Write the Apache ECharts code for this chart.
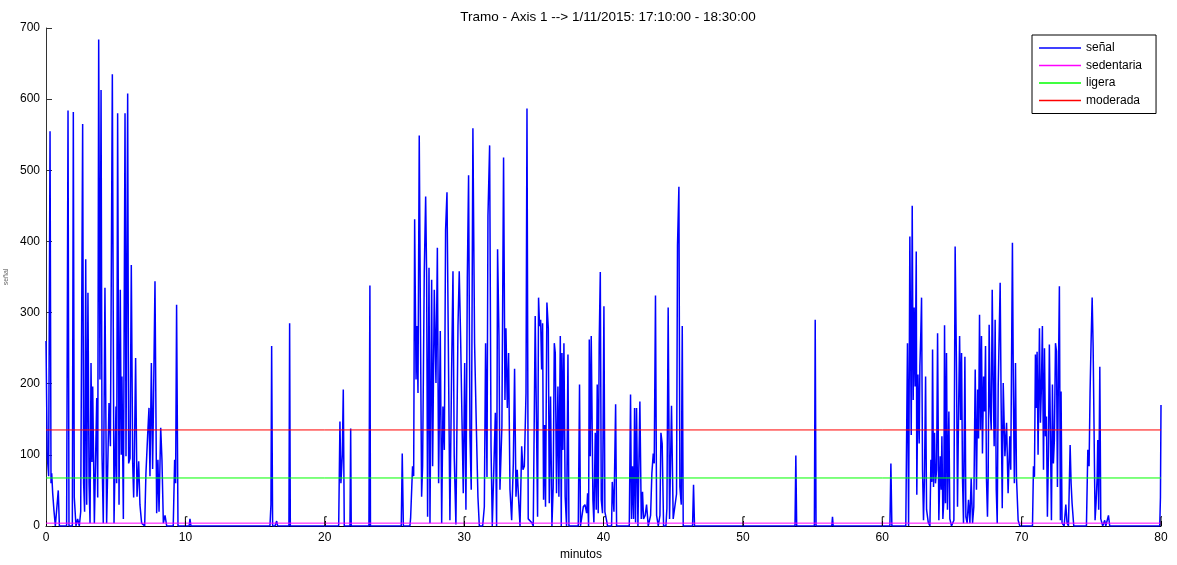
<!DOCTYPE html>
<html>
<head>
<meta charset="utf-8">
<title>Tramo - Axis 1</title>
<script src="https://cdn.jsdelivr.net/npm/echarts@6/dist/echarts.min.js"></script>
<style>
  html, body { margin: 0; padding: 0; background: #fff; }
  #chart { width: 1177px; height: 565px; }
</style>
</head>
<body>
<div id="chart"></div>
<script>
// señal as [minuto, valor] pairs, one array per burst
const burst0to10 = [
  [0, 260], [0.09, 98], [0.19, 70], [0.29, 555], [0.36, 60], [0.41, 74], [0.48, 46], [0.57, 22], [0.67, 0],
  [0.88, 50], [0.96, 0], [1.48, 0], [1.58, 584], [1.65, 0], [1.89, 0], [1.96, 582], [2.03, 40], [2.15, 0],
  [2.27, 10], [2.39, 0], [2.49, 20], [2.63, 565], [2.70, 60], [2.77, 20], [2.85, 375], [2.92, 30], [3.01, 328],
  [3.09, 60], [3.16, 4], [3.23, 229], [3.30, 90], [3.35, 196], [3.47, 4], [3.64, 180], [3.71, 40], [3.78, 684],
  [3.87, 206], [3.95, 613], [4.02, 100], [4.11, 4], [4.23, 335], [4.35, 4], [4.52, 173], [4.62, 112], [4.76, 635],
  [4.88, 4], [5.02, 168], [5.07, 60], [5.14, 580], [5.24, 30], [5.33, 332], [5.40, 100], [5.45, 210], [5.55, 10],
  [5.67, 580], [5.74, 98], [5.86, 608], [5.93, 88], [6.03, 95], [6.12, 367], [6.22, 88], [6.29, 40], [6.34, 95],
  [6.43, 236], [6.53, 41], [6.65, 91], [6.74, 30], [6.86, 4], [7.08, 0], [7.17, 74], [7.29, 126], [7.39, 166],
  [7.46, 70], [7.56, 229], [7.65, 80], [7.72, 184], [7.82, 344], [7.94, 18], [8.03, 93], [8.11, 20], [8.23, 138],
  [8.32, 93], [8.42, 4], [8.54, 15], [8.66, 0], [9.13, 0], [9.23, 93], [9.30, 60], [9.37, 311], [9.47, 0],
  [10.27, 0], [10.33, 10], [10.40, 0]
];
const burst16to24 = [
  [16.07, 0], [16.14, 30], [16.19, 253], [16.26, 0], [16.43, 0], [16.55, 7], [16.62, 0],
  [17.43, 0], [17.48, 285], [17.53, 0], [21.0, 0], [21.09, 147], [21.16, 60], [21.26, 100], [21.33, 192],
  [21.40, 0], [21.81, 0], [21.86, 137], [21.90, 0], [23.17, 0], [23.24, 338], [23.28, 0]
];
const burst25to35 = [
  [25.49, 0], [25.56, 102], [25.64, 0], [26.11, 0], [26.16, 11], [26.30, 84], [26.38, 70], [26.45, 431],
  [26.55, 206], [26.62, 281], [26.69, 187], [26.78, 549], [26.88, 243], [26.95, 41], [27.02, 84], [27.14, 356],
  [27.24, 463], [27.31, 351], [27.38, 13], [27.48, 363], [27.55, 4], [27.67, 346], [27.74, 84], [27.86, 332],
  [27.98, 201], [28.08, 391], [28.17, 60], [28.29, 274], [28.39, 4], [28.48, 168], [28.58, 107], [28.67, 416],
  [28.77, 469], [28.86, 271], [28.98, 8], [29.10, 215], [29.20, 358], [29.29, 98], [29.41, 2], [29.56, 281],
  [29.65, 358], [29.75, 262], [29.85, 145], [29.94, 46], [30.04, 229], [30.13, 23], [30.23, 349], [30.32, 493],
  [30.42, 126], [30.51, 51], [30.63, 559], [30.75, 257], [30.87, 145], [30.99, 41], [31.09, 0], [31.33, 0],
  [31.45, 27], [31.54, 257], [31.64, 69], [31.71, 436], [31.83, 535], [31.93, 112], [32.02, 0], [32.14, 0],
  [32.24, 159], [32.33, 0], [32.40, 389], [32.50, 267], [32.57, 51], [32.71, 140], [32.83, 518], [32.93, 177],
  [33.00, 278], [33.10, 166], [33.19, 243], [33.29, 51], [33.41, 8], [33.53, 88], [33.62, 221], [33.72, 41],
  [33.81, 79], [33.91, 37], [34.01, 0], [34.13, 112], [34.22, 79], [34.32, 84], [34.44, 187], [34.51, 587],
  [34.60, 10], [34.72, 8], [34.84, 5], [34.96, 0]
];
const burst35to47 = [
  [35.10, 295], [35.20, 131], [35.27, 13], [35.34, 321], [35.41, 281], [35.49, 290], [35.56, 220], [35.63, 285],
  [35.70, 37], [35.77, 142], [35.84, 27], [35.94, 314], [36.04, 278], [36.11, 32], [36.20, 182], [36.30, 0],
  [36.39, 55], [36.47, 257], [36.54, 243], [36.63, 46], [36.73, 196], [36.80, 41], [36.90, 267], [36.97, 0],
  [37.02, 243], [37.09, 107], [37.16, 257], [37.25, 41], [37.35, 0], [37.45, 241], [37.52, 0], [38.19, 0],
  [38.28, 199], [38.35, 0], [38.55, 27], [38.67, 30], [38.79, 18], [38.86, 46], [38.93, 0], [38.98, 262],
  [39.05, 98], [39.12, 267], [39.24, 37], [39.31, 5], [39.41, 131], [39.48, 23], [39.55, 199], [39.62, 18],
  [39.69, 255], [39.77, 357], [39.84, 37], [39.93, 18], [40.03, 309], [40.10, 20], [40.20, 10], [40.29, 0],
  [40.58, 0], [40.63, 62], [40.75, 20], [40.87, 171], [40.94, 0], [41.85, 0], [41.94, 185], [42.01, 10],
  [42.08, 84], [42.16, 10], [42.23, 166], [42.30, 5], [42.37, 166], [42.47, 0], [42.61, 175], [42.71, 10],
  [42.80, 48], [42.87, 10], [42.99, 15], [43.09, 30], [43.21, 0], [43.38, 15], [43.47, 74], [43.57, 102],
  [43.64, 88], [43.73, 324], [43.81, 15], [43.93, 0], [44.05, 15], [44.12, 131], [44.21, 116], [44.31, 0],
  [44.48, 0], [44.55, 25], [44.64, 307], [44.74, 10], [44.88, 169], [45.00, 10], [45.12, 8], [45.24, 45],
  [45.31, 395], [45.41, 477], [45.48, 55], [45.58, 30], [45.65, 281], [45.72, 0], [46.39, 0], [46.46, 58],
  [46.53, 0]
];
const burst53to57 = [
  [53.74, 0], [53.80, 99], [53.86, 0], [55.13, 0], [55.19, 290], [55.25, 0], [56.38, 0], [56.43, 13], [56.48, 0]
];
const burst60to70 = [
  [60.55, 0], [60.62, 88], [60.69, 0], [61.69, 0], [61.81, 257], [61.89, 0], [61.98, 407], [62.08, 128],
  [62.15, 450], [62.22, 177], [62.29, 307], [62.36, 196], [62.44, 386], [62.48, 44], [62.56, 213], [62.65, 116],
  [62.70, 224], [62.77, 274], [62.82, 321], [62.89, 79], [62.96, 8], [63.03, 69], [63.11, 210], [63.18, 23],
  [63.30, 5], [63.42, 0], [63.49, 93], [63.56, 62], [63.61, 248], [63.68, 55], [63.75, 131], [63.82, 60],
  [63.90, 79], [63.97, 271], [64.06, 8], [64.16, 98], [64.23, 51], [64.28, 126], [64.35, 10], [64.42, 37],
  [64.47, 282], [64.54, 32], [64.61, 243], [64.68, 23], [64.78, 161], [64.85, 10], [64.97, 0], [65.14, 8],
  [65.23, 393], [65.33, 215], [65.40, 27], [65.47, 149], [65.55, 267], [65.62, 149], [65.69, 243], [65.76, 65],
  [65.83, 4], [65.93, 238], [66.00, 13], [66.09, 4], [66.19, 37], [66.29, 4], [66.38, 67], [66.48, 4],
  [66.57, 27], [66.67, 220], [66.76, 51], [66.84, 192], [66.91, 123], [66.98, 297], [67.05, 135], [67.12, 267],
  [67.19, 102], [67.27, 210], [67.34, 161], [67.41, 253], [67.48, 65], [67.55, 13], [67.60, 69], [67.67, 283],
  [67.74, 168], [67.82, 135], [67.89, 332], [67.96, 206], [68.03, 112], [68.10, 290], [68.18, 51], [68.25, 4],
  [68.32, 196], [68.39, 269], [68.46, 342], [68.53, 173], [68.61, 25], [68.68, 201], [68.80, 98], [68.92, 145],
  [69.03, 46], [69.15, 126], [69.22, 79], [69.34, 398], [69.41, 182], [69.48, 60], [69.56, 229], [69.63, 69],
  [69.75, 8], [69.87, 0]
];
const burst70to80 = [
  [70.78, 0], [70.85, 84], [70.92, 69], [70.99, 241], [71.06, 166], [71.11, 245], [71.18, 100], [71.28, 278],
  [71.35, 145], [71.42, 196], [71.49, 281], [71.57, 79], [71.64, 250], [71.71, 126], [71.78, 154], [71.85, 13],
  [71.92, 98], [71.99, 255], [72.07, 257], [72.14, 8], [72.21, 199], [72.28, 88], [72.35, 121], [72.43, 257],
  [72.50, 246], [72.57, 55], [72.64, 215], [72.71, 337], [72.78, 8], [72.83, 189], [72.90, 4], [73.05, 0],
  [73.17, 30], [73.26, 4], [73.36, 0], [73.48, 114], [73.55, 60], [73.62, 32], [73.74, 0], [74.65, 0],
  [74.75, 107], [74.84, 84], [74.91, 187], [74.98, 255], [75.06, 321], [75.13, 253], [75.20, 253], [75.27, 8],
  [75.34, 32], [75.42, 69], [75.46, 121], [75.53, 23], [75.61, 224], [75.68, 10], [75.82, 0], [75.96, 8],
  [76.04, 0], [76.23, 15], [76.32, 0], [79.91, 0], [79.96, 40], [80.0, 170]
];

// umbrales de actividad
const levelNames = ['sedentaria', 'ligera', 'moderada'];
const levelValues = [4, 67.5, 135];

// small black markers every 10 minutes
const markerMinutes = [10, 20, 30, 40, 50, 60, 70, 80];
const markerHeight = 13;

const xTicks = [0, 80, 10];
const yTicks = [0, 700, 100];

const senal = [].concat(burst0to10, burst16to24, burst25to35, burst35to47, burst53to57, burst60to70, burst70to80);

const markerData = [];
markerMinutes.forEach(m => {
  markerData.push([m, 0], [m, markerHeight], [m + 0.15, markerHeight], [m + 0.15, '-']);
});

const levelColors = ['#ff00ff', '#00ff00', '#ff0000'];

const chart = echarts.init(document.getElementById('chart'));

chart.setOption({
  animation: false,
  backgroundColor: '#fff',
  textStyle: { fontFamily: 'Liberation Sans, Arial, sans-serif' },
  title: {
    text: 'Tramo - Axis 1 --> 1/11/2015: 17:10:00 - 18:30:00',
    left: 603,
    textAlign: 'center',
    top: 5,
    textStyle: { fontSize: 13.5, fontWeight: 'normal', color: '#000' }
  },
  grid: { left: 46, right: 16, top: 28, bottom: 39, containLabel: false, outerBoundsMode: 'none' },
  legend: {
    orient: 'vertical',
    left: 1032,
    top: 35,
    padding: [7, 14, 7, 7],
    itemGap: 5.5,
    itemWidth: 42,
    itemHeight: 1.5,
    icon: 'rect',
    borderColor: '#000',
    borderWidth: 1,
    textStyle: { fontSize: 12, lineHeight: 12, color: '#000' },
    data: ['señal'].concat(levelNames)
  },
  xAxis: {
    type: 'value',
    min: xTicks[0],
    max: xTicks[1],
    interval: xTicks[2],
    name: 'minutos',
    nameLocation: 'middle',
    nameGap: 20,
    nameTextStyle: { fontSize: 12, color: '#000', padding: [0, 45, 0, 0] },
    axisLine: { lineStyle: { color: '#000', width: 1 } },
    axisTick: { inside: true, length: 5, lineStyle: { color: '#000' } },
    axisLabel: { fontSize: 12, color: '#000', margin: 6 },
    splitLine: { show: false }
  },
  yAxis: {
    type: 'value',
    min: yTicks[0],
    max: yTicks[1],
    interval: yTicks[2],
    name: 'señal',
    nameLocation: 'middle',
    nameGap: 36,
    nameTextStyle: { fontSize: 7, color: '#666' },
    axisLine: { show: true, lineStyle: { color: '#333', width: 1 } },
    axisTick: { inside: true, length: 6, lineStyle: { color: '#333' } },
    axisLabel: { fontSize: 12, color: '#000', margin: 6 },
    splitLine: { show: false }
  },
  series: [
    {
      name: 'señal',
      type: 'line',
      data: senal,
      symbol: 'none',
      lineStyle: { color: '#0000ff', width: 1.5 },
      itemStyle: { color: '#0000ff' },
      z: 2
    },
    ...levelNames.map((name, i) => ({
      name: name,
      type: 'line',
      data: [[xTicks[0], levelValues[i]], [xTicks[1], levelValues[i]]],
      symbol: 'none',
      lineStyle: { color: levelColors[i], width: 1 },
      itemStyle: { color: levelColors[i] },
      z: 3
    })),
    {
      name: 'marcas',
      type: 'line',
      data: markerData,
      symbol: 'none',
      connectNulls: false,
      lineStyle: { color: '#000', width: 1 },
      z: 4
    }
  ]
});
</script>
</body>
</html>
